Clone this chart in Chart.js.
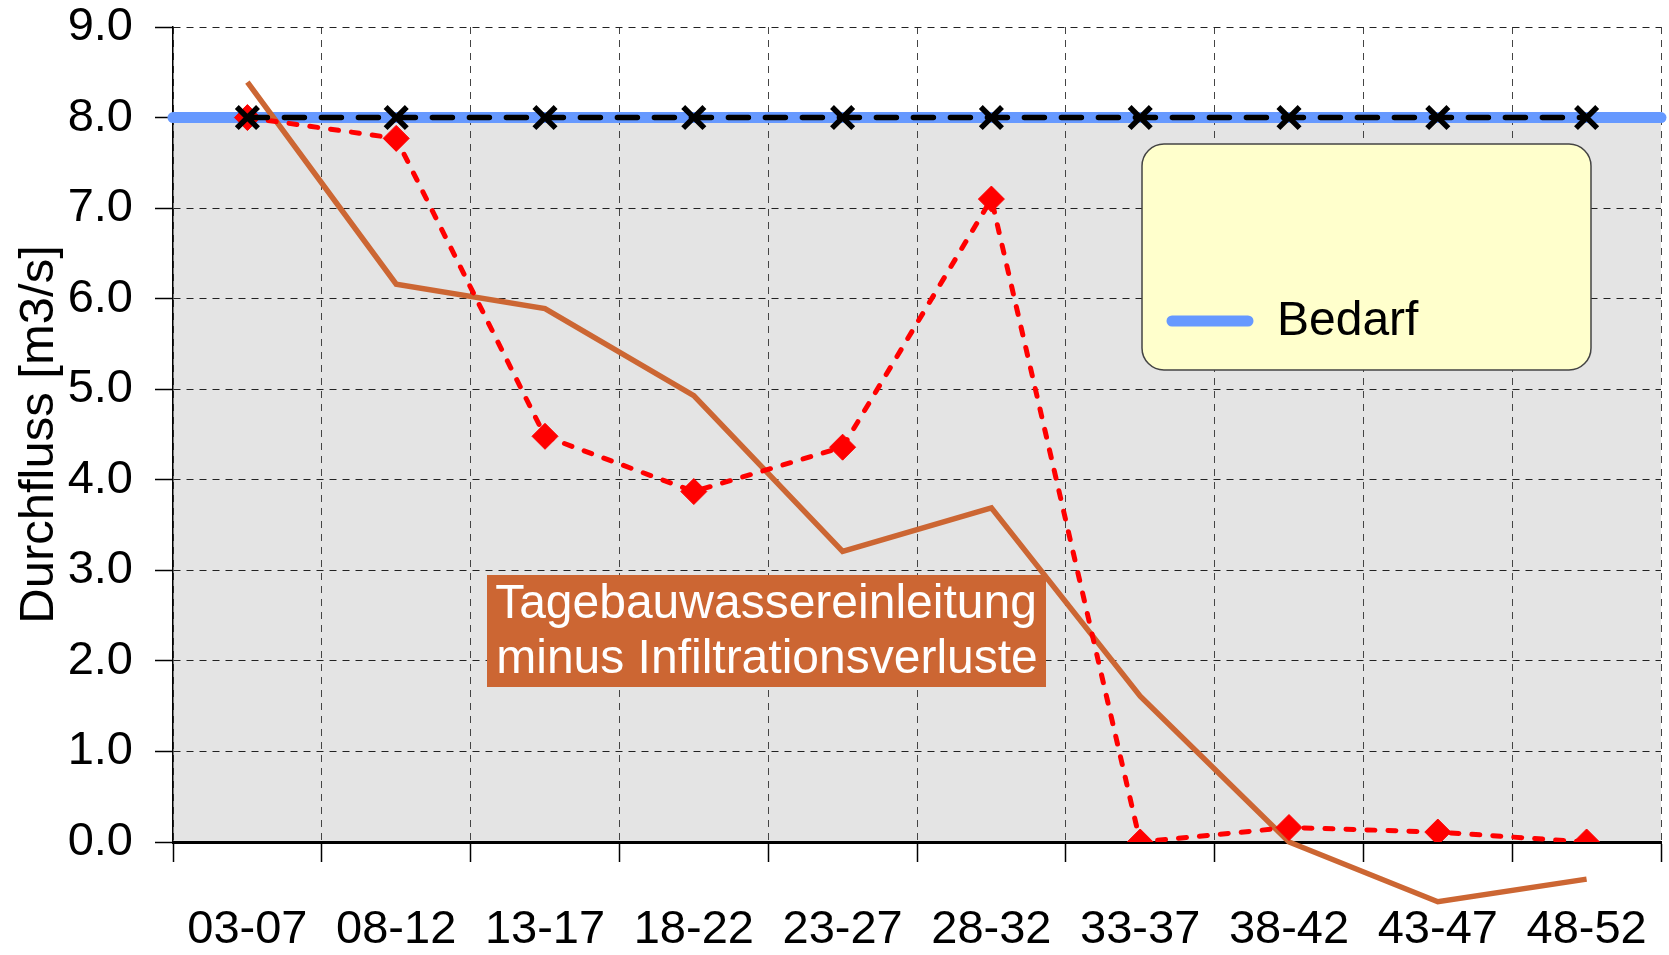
<!DOCTYPE html>
<html>
<head>
<meta charset="utf-8">
<script src="https://cdn.jsdelivr.net/npm/chart.js@4.4.1/dist/chart.umd.min.js"></script>
<style>
  html, body { margin: 0; padding: 0; background: #ffffff; }
  #wrap { position: relative; width: 1669px; height: 955px; }
</style>
</head>
<body>
<div id="wrap"><canvas id="c" width="1669" height="955"></canvas></div>
<script>
// ---- data ----
const categories = ['03-07', '08-12', '13-17', '18-22', '23-27', '28-32', '33-37', '38-42', '43-47', '48-52'];
const abfluss    = [8.0, 7.77, 4.48, 3.87, 4.36, 7.10, 0.0, 0.16, 0.11, 0.0];      // red dashed, diamonds
const tagebau    = [8.39, 6.16, 5.89, 4.93, 3.21, 3.69, 1.61, 0.0, -0.66, -0.41]; // orange solid
const sollwert   = [8.0, 8.0, 8.0, 8.0, 8.0, 8.0, 8.0, 8.0, 8.0, 8.0];           // black dashed, crosses
const bedarfLevel = [8.0, 8.0];                                                   // blue "Bedarf" line across the plot
const yTickValues = [0, 1, 2, 3, 4, 5, 6, 7, 8, 9];
const yAxisTitle = 'Durchfluss [m3/s]';
const legendLabel = 'Bedarf';
const annotationLines = ['Tagebauwassereinleitung', 'minus Infiltrationsverluste'];

const FONT = '"Liberation Sans", Arial, sans-serif';
const span = [-0.5, categories.length - 0.5];

const overlayPlugin = {
  id: 'overlays',
  afterDatasetsDraw(chart) {
    const ctx = chart.ctx;
    ctx.save();
    // annotation box
    ctx.fillStyle = '#CC6633';
    ctx.fillRect(487, 575, 559, 112);
    ctx.fillStyle = '#ffffff';
    ctx.font = '48px ' + FONT;
    ctx.textAlign = 'center';
    ctx.textBaseline = 'middle';
    ctx.fillText(annotationLines[0], 766, 605);
    ctx.fillText(annotationLines[1], 767, 660);

    // legend box
    const x = 1142, y = 144, w = 449, h = 226, r = 22;
    ctx.beginPath();
    ctx.moveTo(x + r, y);
    ctx.lineTo(x + w - r, y);
    ctx.arcTo(x + w, y, x + w, y + r, r);
    ctx.lineTo(x + w, y + h - r);
    ctx.arcTo(x + w, y + h, x + w - r, y + h, r);
    ctx.lineTo(x + r, y + h);
    ctx.arcTo(x, y + h, x, y + h - r, r);
    ctx.lineTo(x, y + r);
    ctx.arcTo(x, y, x + r, y, r);
    ctx.closePath();
    ctx.fillStyle = '#FFFFCC';
    ctx.fill();
    ctx.lineWidth = 1.5;
    ctx.strokeStyle = '#444444';
    ctx.stroke();

    ctx.beginPath();
    ctx.lineCap = 'round';
    ctx.lineWidth = 11;
    ctx.strokeStyle = '#6699FF';
    ctx.moveTo(1172, 321);
    ctx.lineTo(1248, 321);
    ctx.stroke();

    ctx.fillStyle = '#000000';
    ctx.font = '48px ' + FONT;
    ctx.textAlign = 'left';
    ctx.textBaseline = 'middle';
    ctx.fillText(legendLabel, 1277, 322);
    ctx.restore();
  }
};

new Chart(document.getElementById('c'), {
  type: 'line',
  data: {
    labels: categories,
    datasets: [
      {
        label: 'Soll',
        data: sollwert,
        borderColor: '#000000',
        borderWidth: 5.5,
        borderDash: [20, 17],
        borderCapStyle: 'round',
        pointStyle: 'crossRot',
        pointRadius: 15,
        pointBorderWidth: 5.5,
        pointBorderColor: '#000000',
        pointBackgroundColor: '#000000',
        tension: 0,
        fill: false
      },
      {
        label: 'Abfluss',
        data: abfluss,
        borderColor: '#FF0000',
        borderWidth: 5,
        borderDash: [8, 13],
        borderCapStyle: 'round',
        pointStyle: 'rectRot',
        pointRadius: 13,
        pointBorderWidth: 1,
        pointBorderColor: '#FF0000',
        pointBackgroundColor: '#FF0000',
        tension: 0,
        fill: false
      },
      {
        label: 'Tagebauwassereinleitung minus Infiltrationsverluste',
        data: tagebau,
        borderColor: '#CC6633',
        borderWidth: 5.5,
        pointRadius: 0,
        tension: 0,
        fill: false,
        clip: false
      },
      {
        label: legendLabel,
        xAxisID: 'xb',
        data: bedarfLevel.map((v, i) => ({ x: span[i], y: v })),
        borderColor: '#6699FF',
        borderWidth: 11,
        borderCapStyle: 'round',
        pointRadius: 0,
        tension: 0,
        fill: 'origin',
        backgroundColor: '#E4E4E4',
        clip: false
      }
    ]
  },
  options: {
    responsive: false,
    animation: false,
    events: [],
    layout: { autoPadding: false, padding: { top: 27, right: 8, left: 0, bottom: 0 } },
    plugins: {
      legend: { display: false },
      tooltip: { enabled: false },
      filler: { drawTime: 'beforeDraw', propagate: false }
    },
    scales: {
      x: {
        type: 'category',
        offset: true,
        grid: {
          offset: true,
          color: '#444444',
          lineWidth: 1,
          tickLength: 20,
          tickColor: '#000000',
          tickWidth: 1.5,
          drawOnChartArea: true
        },
        border: { display: true, color: '#000000', width: 3, dash: [7, 6] },
        ticks: {
          color: '#000000',
          font: { family: FONT, size: 47 },
          padding: 40,
          maxRotation: 0,
          autoSkip: false
        },
        afterFit(scale) { scale.height = 113; scale.paddingLeft = 0; scale.paddingRight = 0; }
      },
      xb: {
        type: 'linear',
        display: false,
        min: span[0],
        max: span[1]
      },
      y: {
        type: 'linear',
        min: yTickValues[0],
        max: yTickValues[yTickValues.length - 1],
        afterBuildTicks(scale) { scale.ticks = yTickValues.map(v => ({ value: v })); },
        grid: {
          color: '#222222',
          lineWidth: 1,
          tickLength: 18,
          tickColor: '#000000',
          tickWidth: 1.5
        },
        border: { display: true, color: '#000000', width: 1.5, dash: [7, 6] },
        ticks: {
          color: '#000000',
          font: { family: FONT, size: 47 },
          padding: 22,
          callback: (v) => Number(v).toFixed(1)
        },
        title: {
          display: true,
          text: yAxisTitle,
          color: '#000000',
          font: { family: FONT, size: 49 },
          padding: { top: 10, bottom: 0 }
        },
        afterFit(scale) { scale.width = 173; scale.paddingTop = 0; scale.paddingBottom = 0; }
      }
    }
  },
  plugins: [overlayPlugin]
});
</script>
</body>
</html>
